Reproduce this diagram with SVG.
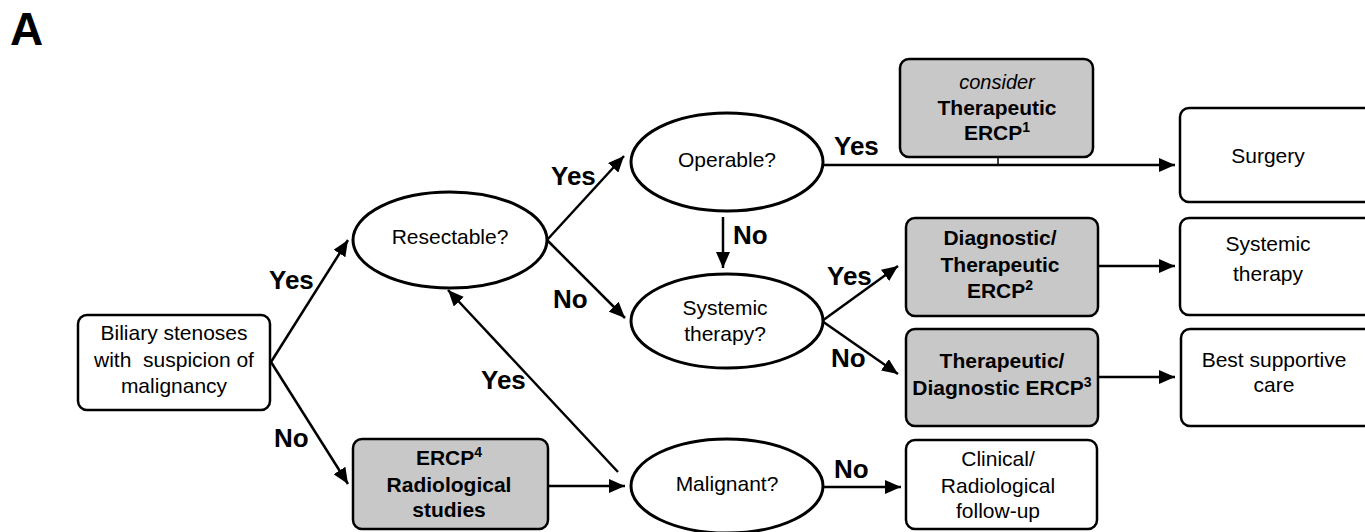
<svg xmlns="http://www.w3.org/2000/svg" width="1365" height="532" viewBox="0 0 1365 532">
<style>
text{font-family:"Liberation Sans","DejaVu Sans",sans-serif;fill:#000;text-anchor:middle}
.n{font-size:21px}
.b{font-size:21px;font-weight:bold}
.i{font-size:20px;font-style:italic}
.sup{font-size:14px}
.lbl{font-size:26px;font-weight:bold;text-anchor:start}
.ell{fill:#fff;stroke:#000;stroke-width:3}
.box{fill:#fff;stroke:#000;stroke-width:2.5}
.grey{fill:#c8c8c8;stroke:#000;stroke-width:2.5}
.c{stroke:#000;stroke-width:2.5;fill:none}
</style>
<defs>
<marker id="ah" markerUnits="userSpaceOnUse" markerWidth="16" markerHeight="14" viewBox="0 0 16 14" refX="16" refY="7" orient="auto">
<path d="M0,0 L16,7 L0,14 z" fill="#000"/>
</marker>
</defs>
<text x="10" y="45" style="font-size:46px;font-weight:bold;text-anchor:start">A</text>
<g id="connectors">
<line class="c" x1="271" y1="362" x2="348" y2="240" marker-end="url(#ah)"/>
<line class="c" x1="271" y1="362" x2="348" y2="484" marker-end="url(#ah)"/>
<line class="c" x1="547" y1="240" x2="624" y2="156" marker-end="url(#ah)"/>
<line class="c" x1="547" y1="240" x2="625" y2="318" marker-end="url(#ah)"/>
<line class="c" x1="723" y1="217" x2="723" y2="268" marker-end="url(#ah)"/>
<line class="c" x1="824" y1="165" x2="1175" y2="165" marker-end="url(#ah)"/>
<line x1="998" y1="157" x2="998" y2="165" stroke="#000" stroke-width="1.5"/>
<line class="c" x1="822" y1="321" x2="898" y2="266" marker-end="url(#ah)"/>
<line class="c" x1="822" y1="321" x2="898" y2="374" marker-end="url(#ah)"/>
<line class="c" x1="1098" y1="266" x2="1175" y2="266" marker-end="url(#ah)"/>
<line class="c" x1="1098" y1="377" x2="1175" y2="377" marker-end="url(#ah)"/>
<line class="c" x1="548" y1="486" x2="625" y2="486" marker-end="url(#ah)"/>
<line class="c" x1="824" y1="487" x2="901" y2="487" marker-end="url(#ah)"/>
<line class="c" x1="618" y1="472" x2="448" y2="290" marker-end="url(#ah)"/>
<text class="lbl" x="269" y="289">Yes</text>
<text class="lbl" x="274" y="447">No</text>
<text class="lbl" x="551" y="185">Yes</text>
<text class="lbl" x="553" y="308">No</text>
<text class="lbl" x="733" y="244">No</text>
<text class="lbl" x="834" y="155">Yes</text>
<text class="lbl" x="827" y="285">Yes</text>
<text class="lbl" x="831" y="367">No</text>
<text class="lbl" x="481" y="389">Yes</text>
<text class="lbl" x="834" y="478">No</text>
</g>
<g id="biliary">
<rect class="box" x="78" y="315" width="192" height="95" rx="9"/>
<text class="n" x="174" y="340">Biliary stenoses</text>
<text class="n" x="174" y="367" xml:space="preserve">with  suspicion of</text>
<text class="n" x="174" y="393">malignancy</text>
</g>
<g id="resectable">
<ellipse class="ell" cx="450" cy="240" rx="97" ry="48"/>
<text class="n" x="450" y="244">Resectable?</text>
</g>
<g id="operable">
<ellipse class="ell" cx="727" cy="162" rx="96" ry="49"/>
<text class="n" x="727" y="167">Operable?</text>
</g>
<g id="systemic-q">
<ellipse class="ell" cx="727" cy="321" rx="96" ry="47"/>
<text class="n" x="725" y="315">Systemic</text>
<text class="n" x="725" y="341">therapy?</text>
</g>
<g id="malignant">
<ellipse class="ell" cx="727" cy="486" rx="96" ry="47"/>
<text class="n" x="727" y="491">Malignant?</text>
</g>
<g id="ercp1">
<rect class="grey" x="900" y="59" width="193" height="98" rx="9"/>
<text class="i" x="997" y="89">consider</text>
<text class="b" x="997" y="115">Therapeutic</text>
<text class="b" x="997" y="140">ERCP<tspan class="sup" dy="-8">1</tspan></text>
</g>
<g id="ercp2">
<rect class="grey" x="906" y="218" width="192" height="98" rx="9"/>
<text class="b" x="1000" y="245">Diagnostic/</text>
<text class="b" x="1000" y="272">Therapeutic</text>
<text class="b" x="1000" y="298">ERCP<tspan class="sup" dy="-8">2</tspan></text>
</g>
<g id="ercp3">
<rect class="grey" x="906" y="329" width="192" height="97" rx="9"/>
<text class="b" x="1002" y="368">Therapeutic/</text>
<text class="b" x="1002" y="395">Diagnostic ERCP<tspan class="sup" dy="-8">3</tspan></text>
</g>
<g id="ercp4">
<rect class="grey" x="353" y="439" width="195" height="90" rx="9"/>
<text class="b" x="449" y="465">ERCP<tspan class="sup" dy="-8">4</tspan></text>
<text class="b" x="449" y="492">Radiological</text>
<text class="b" x="449" y="517">studies</text>
</g>
<g id="followup">
<rect class="box" x="906" y="440" width="191" height="89" rx="9"/>
<text class="n" x="998" y="466">Clinical/</text>
<text class="n" x="998" y="493">Radiological</text>
<text class="n" x="998" y="518">follow-up</text>
</g>
<g id="surgery">
<rect class="box" x="1180" y="108" width="200" height="94" rx="9"/>
<text class="n" x="1268" y="163">Surgery</text>
</g>
<g id="systemic-therapy">
<rect class="box" x="1180" y="218" width="200" height="97" rx="9"/>
<text class="n" x="1268" y="251">Systemic</text>
<text class="n" x="1268" y="281">therapy</text>
</g>
<g id="bsc">
<rect class="box" x="1181" y="329" width="200" height="97" rx="9"/>
<text class="n" x="1274" y="367">Best supportive</text>
<text class="n" x="1274" y="392">care</text>
</g>
</svg>
